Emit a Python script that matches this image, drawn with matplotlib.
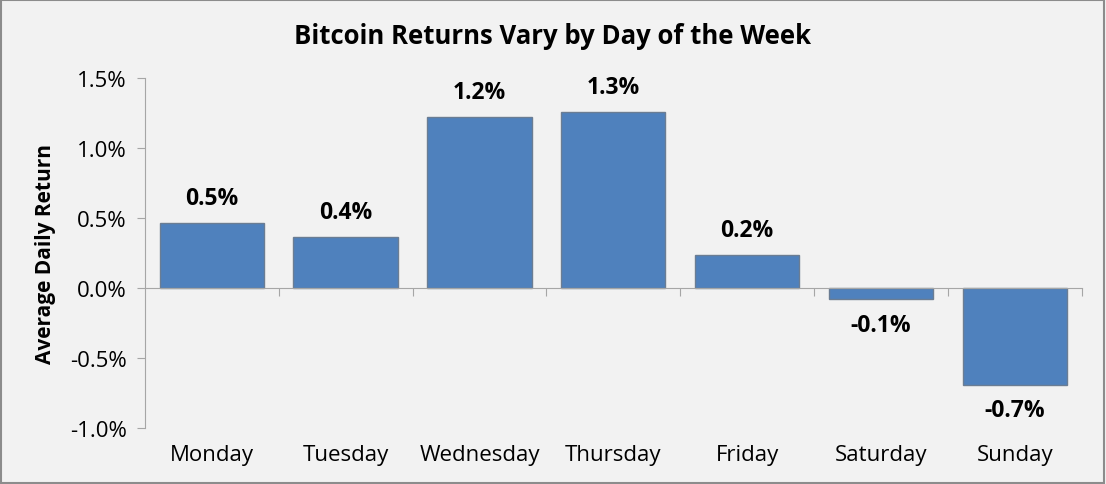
import matplotlib.pyplot as plt
from matplotlib.patches import Rectangle
from matplotlib.transforms import blended_transform_factory
from matplotlib.ticker import FuncFormatter

days = ["Monday", "Tuesday", "Wednesday", "Thursday", "Friday", "Saturday", "Sunday"]
avg_return = [0.464, 0.366, 1.22, 1.257, 0.238, -0.079, -0.69]  # percent
y_ticks = [-1.0, -0.5, 0.0, 0.5, 1.0, 1.5]

bg = "#f2f2f2"
bar_color = "#4f81bd"
axis_gray = "#a6a6a6"

plt.rcParams['font.family'] = ['Open Sans', 'DejaVu Sans']

fig = plt.figure(figsize=(11.06, 4.85), dpi=100, facecolor=bg)
ax = fig.add_axes([0.131, 0.1155, 0.847, 0.7215])
ax.set_facecolor(bg)

x = list(range(len(days)))
ax.bar(x, avg_return, width=0.78, color=bar_color, edgecolor="#6b7d93", linewidth=1)

# value labels, outside end of each bar
for i, v in zip(x, avg_return):
    off = 18 if v >= 0 else -18.5
    ax.annotate(f"{v:.1f}%", (i, v), xytext=(0, off), textcoords='offset points',
                ha='center', va='center', fontsize=16.5, fontweight='bold')

ax.set_xlim(-0.5, len(days) - 0.5)
ax.set_ylim(-1.0, 1.5)
ax.set_yticks(y_ticks)
ax.yaxis.set_major_formatter(FuncFormatter(lambda v, p: f"{v:.1f}%"))

# category boundary ticks on the zero line
ax.set_xticks([i + 0.5 for i in x])
ax.set_xticklabels([])
ax.spines['bottom'].set_position(('data', 0))
ax.spines['top'].set_visible(False)
ax.spines['right'].set_visible(False)
for s in ['bottom', 'left']:
    ax.spines[s].set_color(axis_gray)
ax.tick_params(axis='x', direction='out', length=6, color=axis_gray)
ax.tick_params(axis='y', direction='out', length=6, color=axis_gray, labelsize=16, pad=7)

# day names sit below the plot area
tr = blended_transform_factory(ax.transData, ax.transAxes)
for i, d in zip(x, days):
    ax.text(i, -0.075, d, transform=tr, ha='center', va='center', fontsize=16)

ax.set_ylabel("Average Daily Return", fontsize=15, fontweight='bold', labelpad=10)
fig.text(0.5, 0.924, "Bitcoin Returns Vary by Day of the Week", ha='center', va='center',
         fontsize=18.5, fontweight='bold')

fig.patches.append(Rectangle((0.001, 0.002), 0.997, 0.995, transform=fig.transFigure,
                             fill=False, edgecolor="#8c8c8c", linewidth=1.5))

fig.savefig("out.png", dpi=100, facecolor=bg)
